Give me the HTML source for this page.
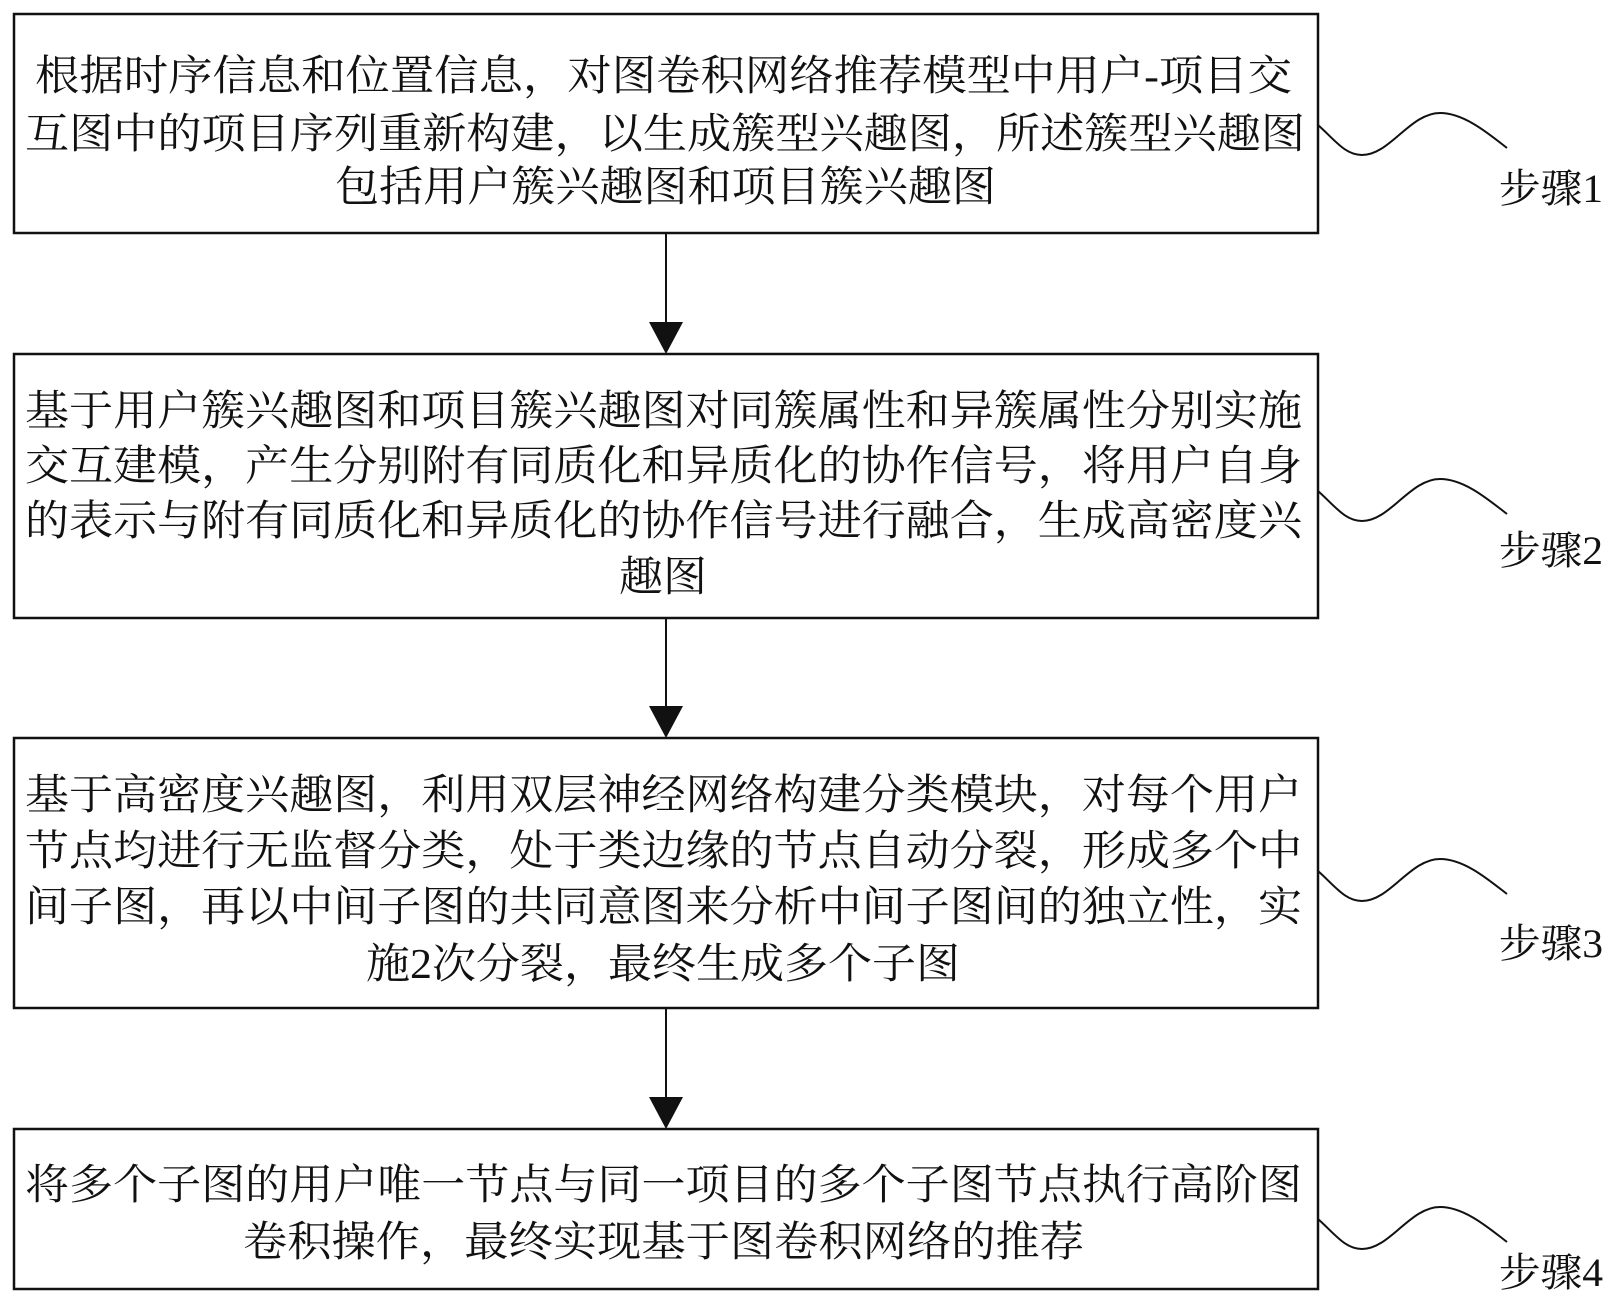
<!DOCTYPE html>
<html><head><meta charset="utf-8"><style>
html,body{margin:0;padding:0;background:#fff;}
svg{display:block;}
text{font-family:"Liberation Serif","Noto Serif CJK SC",serif;fill:#111;}
</style></head><body>
<svg width="1618" height="1305" viewBox="0 0 1618 1305" xmlns="http://www.w3.org/2000/svg">
<g fill="none" stroke="#111" stroke-width="2.5">
<rect x="14" y="14" width="1304" height="219"/>
<rect x="14" y="354" width="1304" height="264"/>
<rect x="14" y="738" width="1304" height="270"/>
<rect x="14" y="1129" width="1304" height="160"/>
</g>
<g stroke="#111" stroke-width="2">
<line x1="666" y1="233" x2="666" y2="325"/>
<line x1="666" y1="618" x2="666" y2="708"/>
<line x1="666" y1="1008" x2="666" y2="1098"/>
</g>
<g fill="#111">
<polygon points="649,322 683,322 666,354"/>
<polygon points="649,706 683,706 666,738"/>
<polygon points="649,1097 683,1097 666,1129"/>
</g>
<g fill="none" stroke="#111" stroke-width="2">
<path d="M1318 125 C1335 140,1345 155,1362 155 C1390 155,1410 113,1440 113 C1465 113,1490 135,1507 148"/>
<path d="M1318 491 C1335 506,1345 521,1362 521 C1390 521,1410 479,1440 479 C1465 479,1490 501,1507 514"/>
<path d="M1318 871 C1335 886,1345 901,1362 901 C1390 901,1410 859,1440 859 C1465 859,1490 881,1507 894"/>
<path d="M1318 1219 C1335 1234,1345 1249,1362 1249 C1390 1249,1410 1207,1440 1207 C1465 1207,1490 1229,1507 1242"/>
</g>
<g font-size="40">
<text x="1499" y="202" textLength="104" lengthAdjust="spacingAndGlyphs">步骤1</text>
<text x="1499" y="564" textLength="104" lengthAdjust="spacingAndGlyphs">步骤2</text>
<text x="1499" y="957" textLength="104" lengthAdjust="spacingAndGlyphs">步骤3</text>
<text x="1499" y="1286" textLength="104" lengthAdjust="spacingAndGlyphs">步骤4</text>
</g>
<g font-size="42">
<text x="35" y="90" textLength="1257" lengthAdjust="spacingAndGlyphs">根据时序信息和位置信息，对图卷积网络推荐模型中用户-项目交</text>
<text x="25" y="148" textLength="1280" lengthAdjust="spacingAndGlyphs">互图中的项目序列重新构建，以生成簇型兴趣图，所述簇型兴趣图</text>
<text x="335" y="201" textLength="661" lengthAdjust="spacingAndGlyphs">包括用户簇兴趣图和项目簇兴趣图</text>

<text x="25" y="425" textLength="1277" lengthAdjust="spacingAndGlyphs">基于用户簇兴趣图和项目簇兴趣图对同簇属性和异簇属性分别实施</text>
<text x="25" y="480" textLength="1277" lengthAdjust="spacingAndGlyphs">交互建模，产生分别附有同质化和异质化的协作信号，将用户自身</text>
<text x="25" y="535" textLength="1277" lengthAdjust="spacingAndGlyphs">的表示与附有同质化和异质化的协作信号进行融合，生成高密度兴</text>
<text x="619" y="591" textLength="88" lengthAdjust="spacingAndGlyphs">趣图</text>

<text x="25" y="809" textLength="1277" lengthAdjust="spacingAndGlyphs">基于高密度兴趣图，利用双层神经网络构建分类模块，对每个用户</text>
<text x="25" y="865" textLength="1277" lengthAdjust="spacingAndGlyphs">节点均进行无监督分类，处于类边缘的节点自动分裂，形成多个中</text>
<text x="25" y="921" textLength="1277" lengthAdjust="spacingAndGlyphs">间子图，再以中间子图的共同意图来分析中间子图间的独立性，实</text>
<text x="366" y="978" textLength="594" lengthAdjust="spacingAndGlyphs">施2次分裂，最终生成多个子图</text>

<text x="25" y="1199" textLength="1277" lengthAdjust="spacingAndGlyphs">将多个子图的用户唯一节点与同一项目的多个子图节点执行高阶图</text>
<text x="243" y="1256" textLength="841" lengthAdjust="spacingAndGlyphs">卷积操作，最终实现基于图卷积网络的推荐</text>
</g>
</svg>
</body></html>
